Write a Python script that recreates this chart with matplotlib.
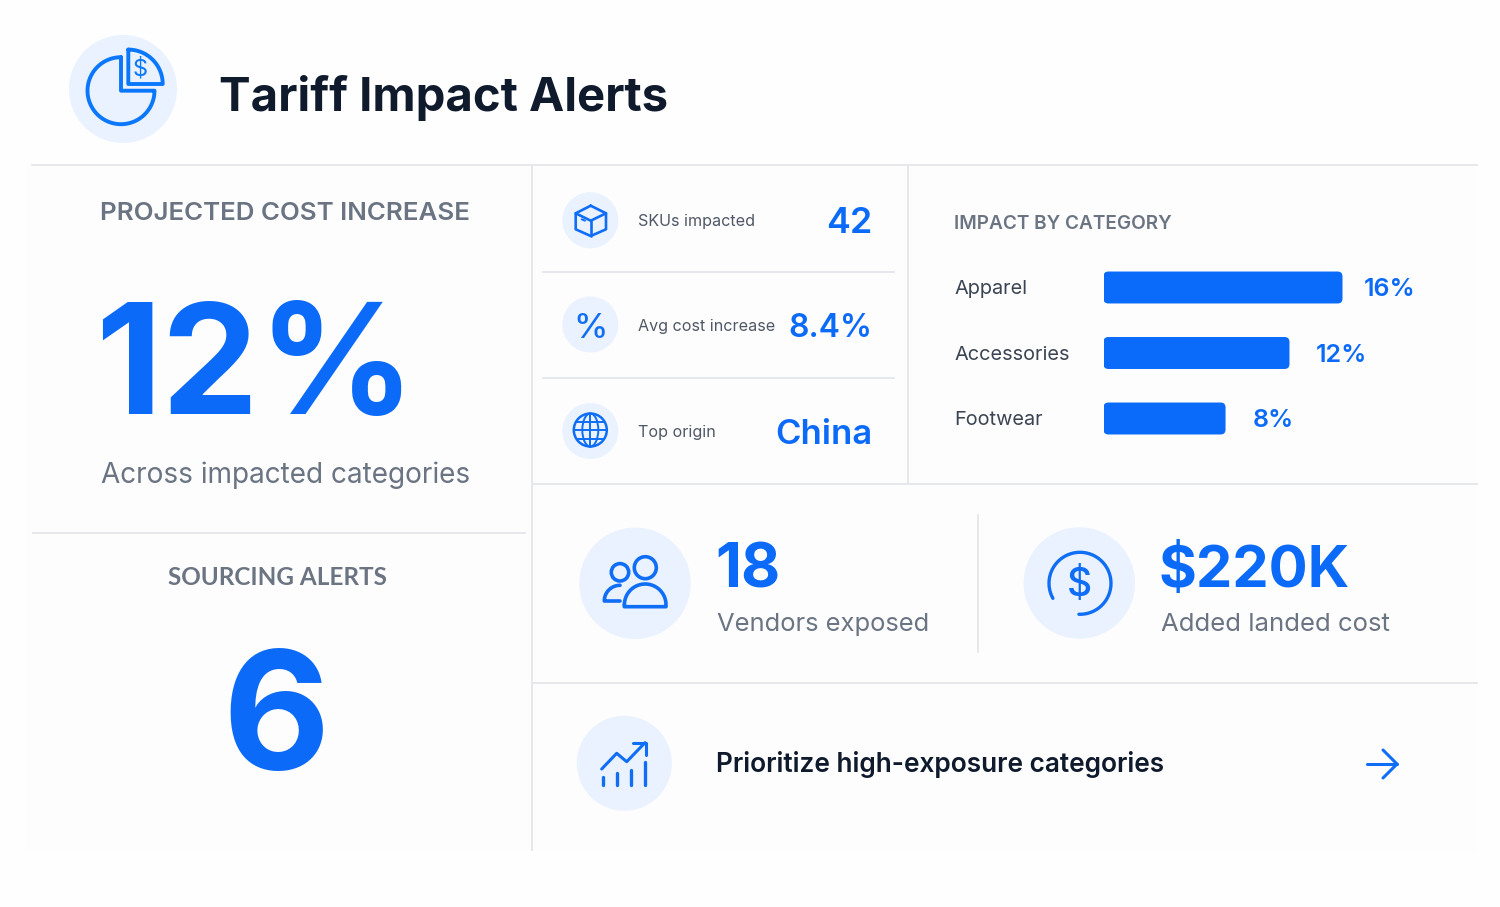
import matplotlib
matplotlib.use('Agg')
import matplotlib.pyplot as plt
from matplotlib.patches import Circle, Ellipse, FancyBboxPatch, Rectangle
import numpy as np

# data
title = 'Tariff Impact Alerts'
categories = ['Apparel', 'Accessories', 'Footwear']
bar_lengths = [16, 12.45, 8.17]  # as drawn in the picture
bar_labels = ['16%', '12%', '8%']
label_gaps = [1.45, 1.75, 1.8]
kpi_labels = ['SKUs impacted', 'Avg cost increase', 'Top origin']
kpi_values = ['42', '8.4%', 'China']
kpi_sizes = [25.8, 23, 25]

BLUE = '#0b6bf8'
ICON = '#0f6ef5'
PALE = '#e9f2fe'
LINE = '#e6e8eb'
GREY = '#6b7482'
DARK = '#0f1b2d'

plt.rcParams['font.family'] = ['Inter', 'DejaVu Sans']

fig = plt.figure(figsize=(15, 9.07), dpi=100, facecolor='#fefefe')
ax = fig.add_axes([0, 0, 1, 1])
ax.set_xlim(0, 1500)
ax.set_ylim(907, 0)
ax.axis('off')


def seg(xs, ys, lw=2.2, c=ICON):
    ax.plot(xs, ys, color=c, lw=lw, solid_capstyle='round', solid_joinstyle='round')


def arc(cx, cy, r, a0, a1, n=60):
    t = np.radians(np.linspace(a0, a1, n))
    return cx + r * np.cos(t), cy - r * np.sin(t)


def disc(cx, cy, r):
    ax.add_patch(Circle((cx, cy), r, fc=PALE, ec='none'))


def ring(cx, cy, r, lw=2.2):
    ax.add_patch(Circle((cx, cy), r, fc='none', ec=ICON, lw=lw))


# panels and rules
ax.add_patch(Rectangle((25, 166), 507, 685, fc='#fdfdfe', ec='none'))
ax.add_patch(Rectangle((533, 166), 944, 685, fc='#fdfdfe', ec='none'))
for x0, x1, y in [(32, 1477, 165), (533, 1477, 484), (533, 1477, 683),
                  (33, 525, 533), (543, 894, 272), (543, 894, 378)]:
    ax.plot([x0, x1], [y, y], color=LINE, lw=1.4)
for x, y0, y1 in [(532, 165, 850), (908, 165, 483), (978, 515, 652)]:
    ax.plot([x, x], [y0, y1], color=LINE, lw=1.4)

# header
disc(123, 89, 54)
xa, ya = arc(121, 90.7, 33.5, 90, 360)
seg(np.r_[121, xa, 121, 121], np.r_[57.2, ya, 90.7, 57.2], lw=2.8, c='#0b78fb')
xa, ya = arc(128.3, 84, 34.4, 90, 0)
seg(np.r_[128.3, xa, 128.3, 128.3], np.r_[49.6, ya, 84, 49.6], lw=2.8, c='#0b78fb')
ax.text(140, 69, '$', color='#0b78fb', fontsize=17, ha='center', va='center')
ax.text(219, 111, title, color=DARK, fontsize=34, fontweight='bold', va='baseline')

# left column
ax.text(100, 220, 'PROJECTED COST INCREASE', color=GREY, fontsize=18.65, fontweight='semibold', va='baseline')
ax.text(95, 414, '12%', color=BLUE, fontsize=111, fontweight='bold', va='baseline')
ax.text(101, 483, 'Across impacted categories', color=GREY, fontsize=20.15, va='baseline')
ax.text(277, 585, 'SOURCING ALERTS', color=GREY, fontsize=17.45, fontweight='bold', family='Lato', ha='center', va='baseline')
ax.text(276, 769, '6', color=BLUE, fontsize=119, fontweight='bold', ha='center', va='baseline')

# kpi rows
for y, lab, val, size, lab_base, val_base in zip([220.3, 324.5, 431], kpi_labels, kpi_values, kpi_sizes,
                                                 [226, 331, 437], [233, 337, 444]):
    disc(590.3, y, 28)
    ax.text(638, lab_base, lab, color='#4f5866', fontsize=11.6, va='baseline')
    ax.text(872.5, val_base, val, color=BLUE, fontsize=size, fontweight='semibold', ha='right', va='baseline')

# box icon
seg([590.7, 575.7, 575.7, 590.7, 606, 606, 590.7], [205.7, 213.3, 229.3, 236, 229.3, 213.3, 205.7], lw=1.9)
seg([575.7, 590.7, 606], [213.3, 220.7, 213.3], lw=1.9)
seg([590.7, 590.7], [220.7, 236], lw=1.9)
seg([581.7, 585], [219.3, 220.7], lw=1.4)
# percent icon
ax.text(590.3, 337.5, '%', color=ICON, fontsize=25, fontweight='medium', ha='center', va='baseline')
# globe icon
ring(590.3, 430, 16.5, lw=1.8)
ax.add_patch(Ellipse((590.3, 430), 16, 33, fc='none', ec=ICON, lw=1.4))
seg([590.3, 590.3], [413.5, 446.5], lw=1.4)
seg([573.8, 606.8], [430, 430], lw=1.4)
seg([577, 603.6], [421.5, 421.5], lw=1.4)
seg([577, 603.6], [438.5, 438.5], lw=1.4)

# middle stats
disc(635, 583.3, 55.7)
ring(645.3, 567.7, 11, lw=2.6)
ring(620, 572.3, 8.7, lw=2.6)
xa, ya = arc(645.2, 604.8, 20.8, 180, 0)
seg(np.r_[xa, 666, 624.3, 624.4], np.r_[ya, 606.7, 606.7, 604.8], lw=2.6)
xa, ya = arc(620, 601, 15.7, 90, 180)
seg(np.r_[xa, 604.3, 620], np.r_[ya, 601, 601], lw=2.6)
ax.text(715.5, 588, '18', color=BLUE, fontsize=43.5, fontweight='bold', va='baseline')
ax.text(717, 631, 'Vendors exposed', color=GREY, fontsize=18.4, va='baseline')

disc(1079.3, 583, 55.7)
xa, ya = arc(1080, 583.3, 31, -92, 209)
seg(xa, ya, lw=2.4)
ax.text(1079.5, 596, '$', color=ICON, fontsize=28, fontweight='medium', ha='center', va='baseline')
ax.text(1158.5, 587, '$220K', color=BLUE, fontsize=41.7, fontweight='bold', va='baseline')
ax.text(1161, 631, 'Added landed cost', color=GREY, fontsize=18.5, va='baseline')

# action row
disc(624.3, 763.3, 47.5)
seg([601.7, 616.7, 626.7, 645], [769, 753.3, 761.7, 742.7])
seg([633.3, 646, 646], [742.7, 742.7, 755])
for x, top in zip([603, 617, 631, 645], [777.3, 773.3, 770, 761.7]):
    seg([x, x], [top, 785], lw=2.4)
ax.text(716, 772, 'Prioritize high-exposure categories', color=DARK, fontsize=18.9, fontweight='semibold', va='baseline')
seg([1367, 1397], [764, 764])
seg([1383, 1397, 1383], [750, 764, 778])

# impact by category
ax.text(954, 229, 'IMPACT BY CATEGORY', color=GREY, fontsize=13.7, fontweight='semibold', va='baseline')
bx = fig.add_axes([1103.5 / 1500, 1 - 451.25 / 907, 239 / 1500, 196.5 / 907])
bx.set_xlim(0, 16)
bx.set_ylim(2.5, -0.5)
bx.axis('off')
for i, (cat, v, lab, gap) in enumerate(zip(categories, bar_lengths, bar_labels, label_gaps)):
    bx.add_patch(FancyBboxPatch((0, i - 0.244), v, 0.488, boxstyle='round,pad=0,rounding_size=0.33',
                                mutation_aspect=0.228, fc='#0a6bfb', ec='none'))
    bx.text(v + gap, i, lab, color=BLUE, fontsize=18, fontweight='semibold', va='center_baseline', clip_on=False)
    bx.text(-149.5 / 14.94, i, cat, color='#3a4452', fontsize=14.35, va='center_baseline', clip_on=False)

fig.savefig('out.png', dpi=100, facecolor=fig.get_facecolor())
